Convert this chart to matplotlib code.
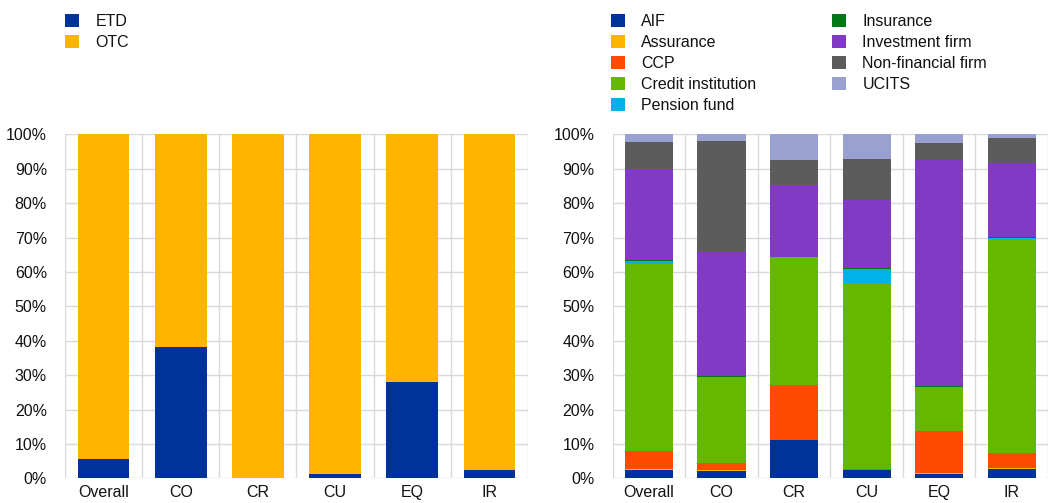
import matplotlib
matplotlib.use("Agg")
import matplotlib.pyplot as plt
import numpy as np
from matplotlib.ticker import FuncFormatter, MultipleLocator

plt.rcParams['font.family'] = ['Liberation Sans', 'DejaVu Sans']
plt.rcParams['font.size'] = 11

categories = ['Overall', 'CO', 'CR', 'CU', 'EQ', 'IR']

# Left chart (percent)
etd = [5.5, 38.2, 0.0, 1.3, 28.0, 2.5]
otc = [94.5, 61.8, 100.0, 98.7, 72.0, 97.5]

# Right chart (percent), stacked bottom to top
aif = [2.5, 2.1, 11.0, 2.3, 1.3, 2.6]
assurance = [0.3, 0.2, 0.2, 0.1, 0.3, 0.5]
ccp = [5.0, 2.2, 15.8, 0.2, 12.2, 4.2]
credit_institution = [54.4, 25.0, 37.2, 54.0, 12.7, 61.9]
pension_fund = [0.9, 0.05, 0.1, 4.2, 0.1, 0.6]
insurance = [0.3, 0.1, 0.1, 0.3, 0.1, 0.4]
investment_firm = [26.6, 36.25, 21.0, 19.9, 65.7, 21.6]
non_financial_firm = [7.8, 32.2, 7.2, 11.8, 5.1, 7.1]
ucits = [2.2, 1.9, 7.4, 7.2, 2.5, 1.1]

left_series = [('ETD', etd, '#003299'), ('OTC', otc, '#FFB400')]
right_series = [
    ('AIF', aif, '#003299'),
    ('Assurance', assurance, '#FFB400'),
    ('CCP', ccp, '#FF4B00'),
    ('Credit institution', credit_institution, '#65B800'),
    ('Pension fund', pension_fund, '#00B1EA'),
    ('Insurance', insurance, '#007816'),
    ('Investment firm', investment_firm, '#8139C6'),
    ('Non-financial firm', non_financial_firm, '#5C5C5C'),
    ('UCITS', ucits, '#98A1D0'),
]

W, H = 1048, 503
fig = plt.figure(figsize=(W / 100, H / 100), dpi=100)

ax_l = fig.add_axes([65 / W, (H - 478.3) / H, 463 / W, 344 / H])
ax_r = fig.add_axes([612.7 / W, (H - 478.3) / H, 435.3 / W, 344 / H])


def draw(ax, series, bar_width):
    x = np.arange(len(categories))
    bottom = np.zeros(len(categories))
    handles = []
    for name, vals, col in series:
        v = np.array(vals, dtype=float)
        b = ax.bar(x, v, bar_width, bottom=bottom, color=col, label=name,
                   edgecolor='none', linewidth=0)
        bottom += v
        handles.append(b)
    ax.set_xlim(-0.5, len(categories) - 0.5)
    ax.set_ylim(0, 100)
    ax.set_xticks(x)
    ax.set_xticklabels(categories)
    ax.set_xticks(np.arange(-0.5, len(categories), 1.0), minor=True)
    ax.yaxis.set_major_locator(MultipleLocator(10))
    ax.yaxis.set_major_formatter(FuncFormatter(lambda v, p: f'{int(round(v))}%'))
    ax.grid(True, axis='y', which='major', color='#d9d9d9', linewidth=1.0)
    ax.grid(True, axis='x', which='minor', color='#d9d9d9', linewidth=1.0)
    ax.set_axisbelow(True)
    for s in ax.spines.values():
        s.set_visible(False)
    ax.tick_params(axis='both', which='both', length=0)
    ax.tick_params(axis='y', pad=13, labelsize=11.5, labelcolor='#111111')
    ax.tick_params(axis='x', pad=5, labelsize=11.5, labelcolor='#111111')
    return handles


h_l = draw(ax_l, left_series, 0.67)
h_r = draw(ax_r, right_series, 0.665)

leg_kw = dict(frameon=False, loc='upper left', borderpad=0, borderaxespad=0,
              handlelength=0.88, handleheight=0.88, handletextpad=1.05,
              labelspacing=0.38, fontsize=11.5, labelcolor='#111111')
fig.legend(handles=h_l, labels=[s[0] for s in left_series],
           bbox_to_anchor=(64.5 / W, 1 - 14 / H), **leg_kw)
fig.legend(handles=h_r, labels=[s[0] for s in right_series], ncol=2,
           columnspacing=4.7,
           bbox_to_anchor=(610.5 / W, 1 - 14 / H), **leg_kw)

fig.savefig('out.png', dpi=100)
